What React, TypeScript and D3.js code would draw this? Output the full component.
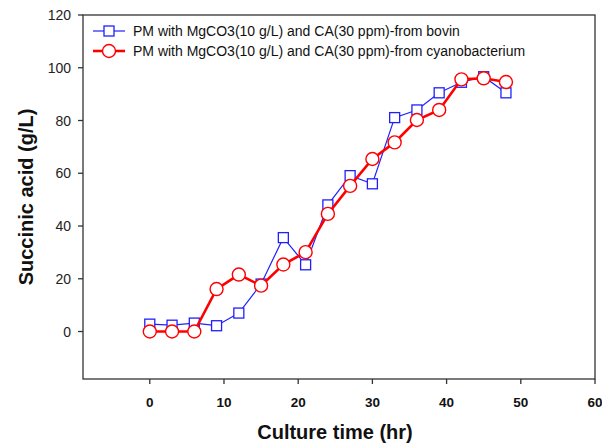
import React from 'react';
import { scaleLinear, line } from 'd3';

// culture time (hr)
const times = [0, 3, 6, 9, 12, 15, 18, 21, 24, 27, 30, 33, 36, 39, 42, 45, 48];
// succinic acid (g/L)
const bovin = [2.8, 2.4, 3.2, 2.2, 7, 18, 35.6, 25.3, 48, 59.1, 56, 81.1, 84, 90.5, 94.5, 96.6, 90.5];
const cyano = [0, 0, 0, 16.1, 21.6, 17.4, 25.4, 30.1, 44.6, 55.2, 65.4, 71.7, 80.2, 84, 95.6, 96, 94.6];

const xTicks = [0, 10, 20, 30, 40, 50, 60];
const yTicks = [0, 20, 40, 60, 80, 100, 120];

const seriesNames = [
  'PM with MgCO3(10 g/L) and CA(30 ppm)-from bovin',
  'PM with MgCO3(10 g/L) and CA(30 ppm)-from cyanobacterium',
];

const App = () => {
  const width = 602;
  const height = 444;
  const left = 83;
  const right = 595;
  const top = 15;
  const bottom = 379;

  const x = scaleLinear().domain([-9, 60]).range([left, right]);
  const y = scaleLinear().domain([-18, 120]).range([bottom, top]);

  const path = line<number>()
    .x((d, i) => x(times[i]))
    .y(d => y(d));

  const axisColor = '#333';
  const blue = '#2020ff';
  const red = '#ff0000';
  const sq = 10;

  return (
    <svg
      width={width}
      height={height}
      style={{ position: 'absolute', left: 0, top: 0, fontFamily: 'Liberation Sans, Arial, sans-serif' }}>
      <rect x={0} y={0} width={width} height={height} fill="#fff" />

      {/* frame */}
      <rect x={left} y={top} width={right - left} height={bottom - top} fill="none" stroke={axisColor} strokeWidth={1.3} />

      {/* y ticks */}
      {yTicks.map(t => (
        <g key={'y' + t}>
          <line x1={left - 5} x2={left} y1={y(t)} y2={y(t)} stroke={axisColor} strokeWidth={1.3} />
          <text x={left - 12} y={y(t)} dy="0.36em" textAnchor="end" fontSize={14} fill="#222">
            {t}
          </text>
        </g>
      ))}

      {/* x ticks */}
      {xTicks.map(t => (
        <g key={'x' + t}>
          <line x1={x(t)} x2={x(t)} y1={bottom} y2={bottom + 5} stroke={axisColor} strokeWidth={1.3} />
          <text x={x(t)} y={bottom + 28} textAnchor="middle" fontSize={13.5} fontWeight="bold" fill="#111">
            {t}
          </text>
        </g>
      ))}

      {/* axis titles */}
      <text x={(left + right) / 2 - 4} y={439} textAnchor="middle" fontSize={20} fontWeight="bold" fill="#111">
        Culture time (hr)
      </text>
      <text
        transform={`translate(33,${(top + bottom) / 2}) rotate(-90)`}
        textAnchor="middle"
        fontSize={20}
        fontWeight="bold"
        fill="#111">
        Succinic acid (g/L)
      </text>

      {/* bovin series */}
      <path d={path(bovin) || ''} fill="none" stroke={blue} strokeWidth={1.2} />
      {bovin.map((d, i) => (
        <rect
          key={'b' + i}
          x={x(times[i]) - sq / 2}
          y={y(d) - sq / 2}
          width={sq}
          height={sq}
          fill="#fff"
          stroke={blue}
          strokeWidth={1.3}
        />
      ))}

      {/* cyanobacterium series */}
      <path d={path(cyano) || ''} fill="none" stroke={red} strokeWidth={2.6} />
      {cyano.map((d, i) => (
        <circle key={'c' + i} cx={x(times[i])} cy={y(d)} r={6.5} fill="#fff" stroke={red} strokeWidth={1.4} />
      ))}

      {/* legend */}
      <g>
        <line x1={93} x2={125} y1={31} y2={31} stroke={blue} strokeWidth={1.2} />
        <rect x={109 - sq / 2} y={31 - sq / 2} width={sq} height={sq} fill="#fff" stroke={blue} strokeWidth={1.3} />
        <text x={133} y={31} dy="0.36em" fontSize={14} fill="#111">
          {seriesNames[0]}
        </text>
        <line x1={93} x2={125} y1={51} y2={51} stroke={red} strokeWidth={2.6} />
        <circle cx={109} cy={51} r={6.5} fill="#fff" stroke={red} strokeWidth={1.4} />
        <text x={133} y={51} dy="0.36em" fontSize={14} fill="#111">
          {seriesNames[1]}
        </text>
      </g>
    </svg>
  );
};

export default App;
